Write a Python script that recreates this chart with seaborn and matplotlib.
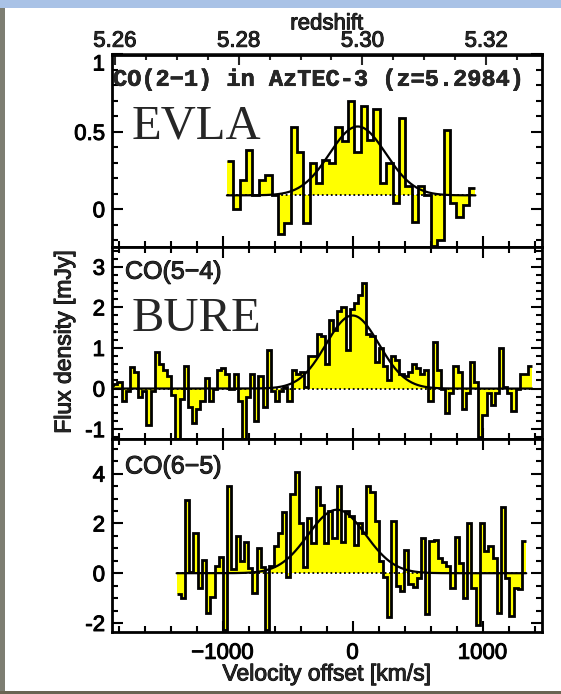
import numpy as np
import matplotlib
matplotlib.use("Agg")
import matplotlib.pyplot as plt
import matplotlib.patheffects as pe
import matplotlib.transforms as mtransforms
import seaborn as sns
from matplotlib.ticker import MultipleLocator, FixedLocator, FormatStrFormatter
from matplotlib.patches import Rectangle

# ---------------- data ----------------
# CO(2-1), EVLA: 39 channels
co21_start = -966.0
co21_width = 49.0
co21_flux = [0.31, 0.00, 0.19, 0.38, 0.09, 0.19, 0.22, 0.09, -0.16, -0.09,
             0.53, 0.37, -0.09, 0.30, 0.17, 0.32, 0.30, 0.53, 0.44, 0.70,
             0.37, 0.67, 0.45, 0.65, 0.17, 0.30, 0.04, 0.59, 0.15, -0.08,
             0.15, 0.09, -0.24, -0.20, 0.51, 0.04, -0.05, 0.03, 0.14]
co21_cont = 0.09
co21_amp = 0.445
co21_center = 40.0
co21_fwhm = 510.0

# CO(5-4), Bure: 102 channels
co54_start = -1872.0
co54_width = 31.9
co54_flux = [0.08, 0.12, 0.15, -0.3, -0.05, 0.52, 0.42, -0.2, -0.05, -0.9,
             -0.05, 0.9, 0.6, 0.45, 0.3, -0.15, -1.3, -0.25, 0.55, -0.45,
             -0.85, -0.5, -0.3, 0.25, -0.3, 0.0, 0.45, 0.5, 0.35, 0.0,
             0.35, -0.3, -1.3, -0.2, 0.35,
             -0.8, 0.3, -0.45, 0.95, -0.05, -0.3, -0.05, 0.05, -0.3, 0.45,
             0.35, 0.4, 0.05, 0.8, 0.8, 1.35, 1.3, 0.6, 1.7, 1.45,
             1.9, 2.0, 0.95, 1.95, 2.1, 2.3, 2.6, 1.35, 1.3, 0.65,
             1.0, 0.55, 0.2, 0.8,
             0.7, 0.35, 0.3, 0.4, 0.6, 0.5, 0.35, 0.45, -0.3, 1.15,
             0.45, 0.0, -0.6, -0.1, 0.55, 0.4, -0.5, -0.1, 0.65, 0.15,
             -1.2, -0.65, -0.1, -0.4, -0.1, 1.0, 0.05, -0.1, -0.55, 0.0,
             0.35, 0.35, 0.55]
co54_cont = 0.0
co54_amp = 1.8
co54_center = 0.0
co54_fwhm = 480.0

# CO(6-5): 83 channels
co65_start = -1353.0
co65_width = 32.4
co65_flux = [-0.85, -1.0, 2.95, 0.05, 1.6, -0.6, 0.55, -1.6, -0.95, 0.3,
             0.65, -2.3, 3.5,
             0.15, 1.5, 0.5, 1.25, 0.2, -0.8, 1.0, 0.25, -2.3, 0.3,
             1.1, 1.6, 2.45, -0.15, 3.2, 4.05, 2.0,
             0.25, 2.2, 1.2, 3.45, 2.75, 1.2, 2.5, 1.4, 3.5, 1.25,
             2.5, 2.3, 1.15, 2.0, 1.6, 3.5, 3.25, 2.1, 0.5, -0.15,
             -1.75, 2.1, -0.5,
             -0.7, 0.95, -0.45, -0.55, -0.2, 1.4, -1.65, 1.3, 1.35, 0.6,
             0.45, 0.3, -0.6, 1.45, 0.4, -1.0, 2.0, -0.6, -2.1, 2.0,
             0.9, 1.1, 0.6, -1.6, 2.65, -0.2, -1.7, -0.6, -0.65, 1.3]
co65_cont = 0.0
co65_amp = 2.55
co65_center = -120.0
co65_fwhm = 520.0

panel_titles = ["CO(2\u22121) in AzTEC-3 (z=5.2984)", "CO(5\u22124)", "CO(6\u22125)"]
instrument_labels = ["EVLA", "BURE", ""]
z_source = 5.2984
z_ticks = [5.26, 5.28, 5.30, 5.32]
v_ticks = [-1000, 0, 1000]

# ---------------- style ----------------
sns.set_theme(style="ticks")
plt.rcParams["font.family"] = ["Liberation Sans", "DejaVu Sans"]
plt.rcParams["axes.unicode_minus"] = True

W, H = 561, 694
fig = plt.figure(figsize=(W / 100, H / 100), dpi=100)
fig.patch.set_facecolor("white")
# photo border visible around the slide
fig.add_artist(Rectangle((0, 1 - 8 / H), 1, 8 / H, transform=fig.transFigure,
                         facecolor="#a9c2e6", edgecolor="none", zorder=-2))
fig.add_artist(Rectangle((0, 0), 5 / W, 1 - 8 / H, transform=fig.transFigure,
                         facecolor="#7d7e72", edgecolor="none", zorder=-2))
fig.add_artist(Rectangle((0, 0), 1, 3 / H, transform=fig.transFigure,
                         facecolor="#6a6452", edgecolor="none", zorder=-2))

left, right, top, bottom = 112 / W, 541.7 / W, 1 - 54.5 / H, 1 - 631.7 / H
ph = (top - bottom) / 3
axes = [fig.add_axes([left, top - (i + 1) * ph, right - left, ph]) for i in range(3)]

xlim = (-1850, 1455)
ylims = [(-0.243, 1.0), (-1.25, 3.49), (-2.35, 5.38)]
ymaj = [0.5, 1, 2]
ymin = [0.1, 0.2, 0.5]

datasets = [
    (co21_start, co21_width, co21_flux, co21_cont, co21_amp, co21_center, co21_fwhm),
    (co54_start, co54_width, co54_flux, co54_cont, co54_amp, co54_center, co54_fwhm),
    (co65_start, co65_width, co65_flux, co65_cont, co65_amp, co65_center, co65_fwhm),
]
title_y = [0.84, 2.88, 4.29]
label_y = [0.46, 1.42, None]

FS = 16
heavy = [pe.withStroke(linewidth=0.7, foreground="black")]
light = [pe.withStroke(linewidth=0.4, foreground="black")]

for i, ax in enumerate(axes):
    start, width, flux, cont, amp, cen, fwhm = datasets[i]
    flux = np.asarray(flux)
    edges = start + width * np.arange(len(flux) + 1)
    ax.set_facecolor("white")
    ax.stairs(flux, edges, baseline=cont, fill=True, color="#ffff00", lw=0, zorder=1)
    ax.stairs(flux, edges, baseline=None, color="black", lw=2.0, zorder=3)
    ax.hlines(cont, edges[0], edges[-1], colors="black", linestyles=(0, (1, 1.5)),
              lw=1.3, zorder=2)
    vgrid = np.linspace(edges[0], edges[-1], 600)
    model = cont + amp * np.exp(-4 * np.log(2) * (vgrid - cen) ** 2 / fwhm ** 2)
    sns.lineplot(x=vgrid, y=model, ax=ax, color="black", lw=1.6, zorder=4)

    ax.set_xlim(*xlim)
    ax.set_ylim(*ylims[i])
    ax.xaxis.set_major_locator(FixedLocator(v_ticks))
    ax.xaxis.set_minor_locator(MultipleLocator(200))
    ax.yaxis.set_major_locator(MultipleLocator(ymaj[i]))
    ax.yaxis.set_minor_locator(MultipleLocator(ymin[i]))
    ax.tick_params(which="both", direction="in", top=(i > 0), right=True,
                   width=1.5, labelsize=FS, pad=5, colors="black")
    ax.tick_params(which="major", length=8)
    ax.tick_params(which="minor", length=4)
    ax.tick_params(axis="x", pad=8)
    for sp in ax.spines.values():
        sp.set_linewidth(2.0)
        sp.set_color("black")
    if i < 2:
        ax.tick_params(axis="x", labelbottom=False)
    ax.set_xlabel("")
    ax.set_ylabel("")
    ax.yaxis.set_major_formatter(FormatStrFormatter("%g"))

    if i == 0:
        ax.text(xlim[0] + 8, title_y[i], panel_titles[i],
                family=["Liberation Mono", "DejaVu Sans Mono"],
                fontsize=17, fontweight="bold", va="center", ha="left", zorder=6,
                path_effects=light)
    else:
        ax.text(xlim[0] + 100, title_y[i], panel_titles[i], fontsize=18, va="center",
                ha="left", zorder=6, path_effects=heavy)
    if instrument_labels[i]:
        ax.text(-1700, label_y[i], instrument_labels[i],
                family=["Liberation Serif", "DejaVu Serif"],
                fontsize=35, va="baseline", ha="left", zorder=6)

# redshift axis on top of the first panel
c_kms = 299792.458
def v2z(v):
    return z_source + np.asarray(v) * (1 + z_source) / c_kms
def z2v(z):
    return (np.asarray(z) - z_source) * c_kms / (1 + z_source)

sec = axes[0].secondary_xaxis("top", functions=(v2z, z2v))
sec.xaxis.set_major_locator(FixedLocator(z_ticks))
sec.xaxis.set_minor_locator(MultipleLocator(0.005))
sec.xaxis.set_major_formatter(FormatStrFormatter("%.2f"))
sec.tick_params(which="both", direction="in", width=1.5, labelsize=FS, pad=2)
sec.tick_params(which="major", length=8)
sec.tick_params(which="minor", length=4)
sec.spines["top"].set_linewidth(2.0)
sec.set_xlabel("redshift", fontsize=FS, labelpad=1, path_effects=heavy)

axes[2].set_xlabel("Velocity offset [km/s]", fontsize=16.5, labelpad=-1, path_effects=heavy)
fig.text(64 / W, 1 - 342 / H, "Flux density [mJy]", rotation=90, fontsize=16.5,
         ha="center", va="center", path_effects=heavy)

fig.canvas.draw()
for a in axes + [sec]:
    for t in a.get_xticklabels() + a.get_yticklabels():
        t.set_path_effects(heavy)

# as in the reference, the topmost "1" label sits a little below the top edge
shift_down = mtransforms.ScaledTranslation(0, -8 / 100, fig.dpi_scale_trans)
for tick in axes[0].yaxis.get_major_ticks():
    if abs(tick.get_loc() - 1.0) < 1e-6:
        tick.label1.set_transform(tick.label1.get_transform() + shift_down)

fig.savefig("out.png", dpi=100, facecolor=fig.get_facecolor())
